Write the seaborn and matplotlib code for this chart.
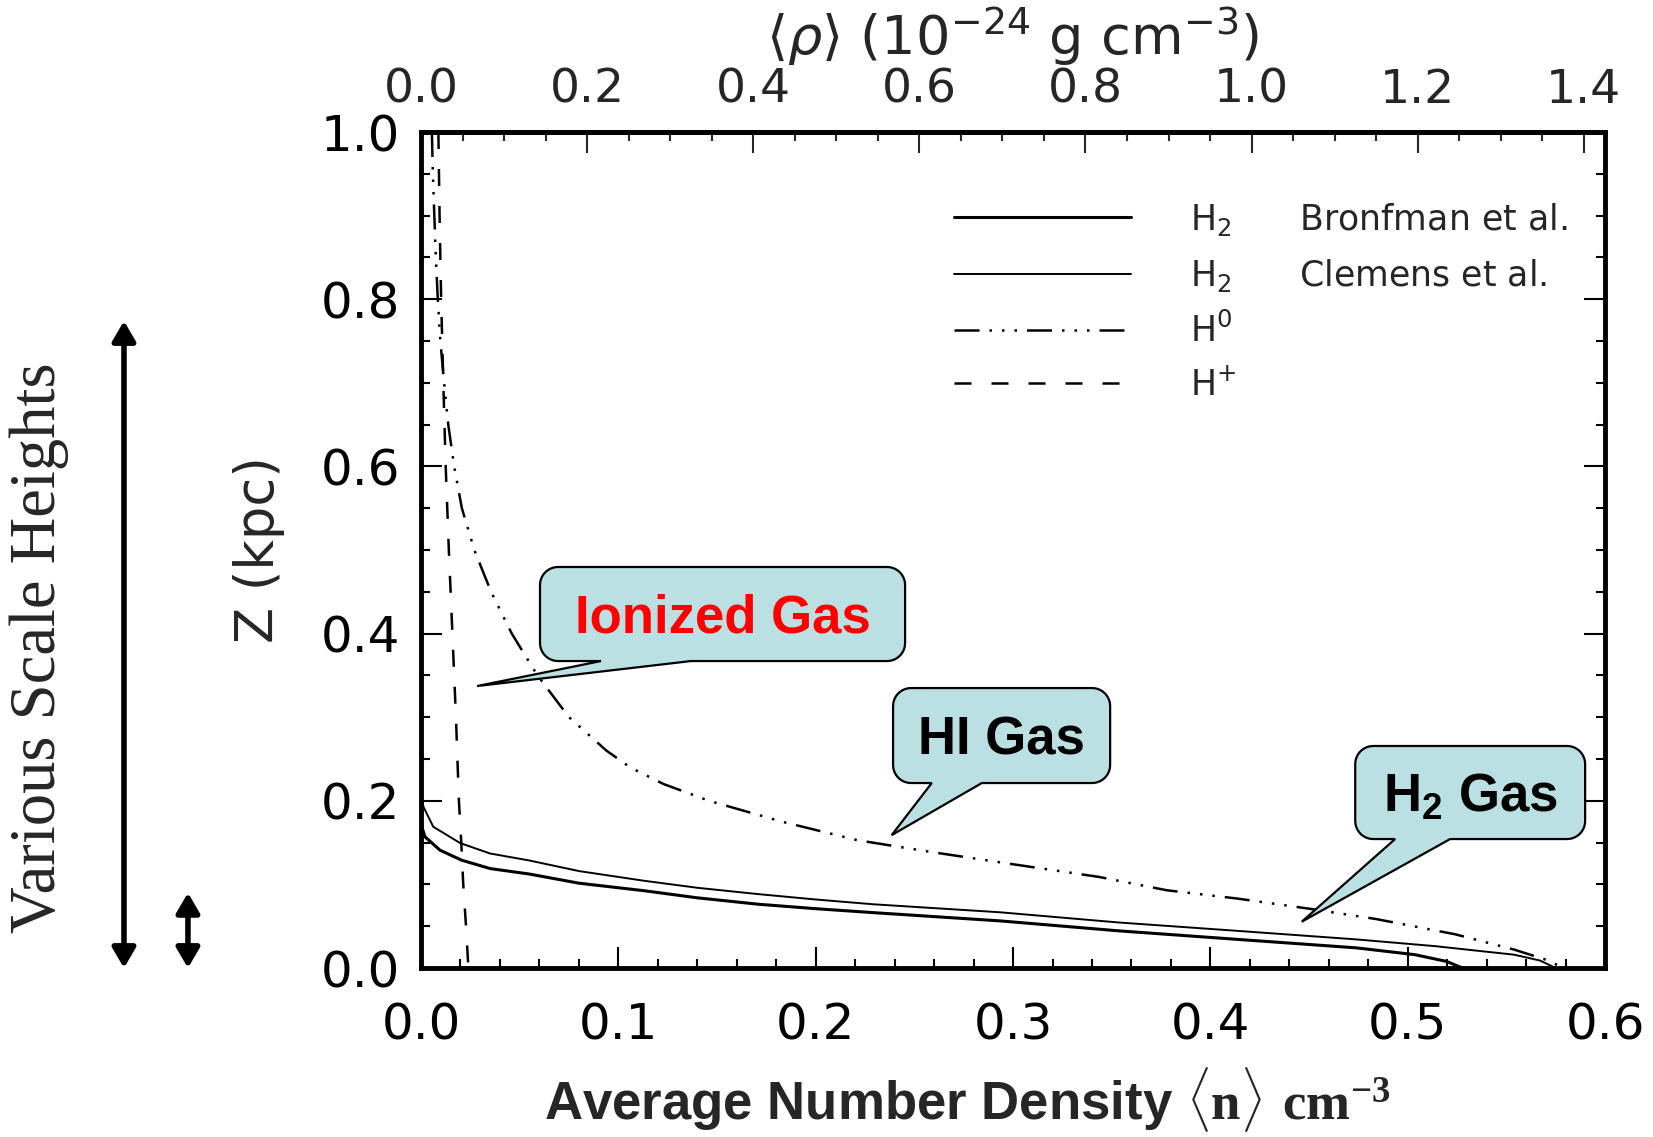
import numpy as np
import pandas as pd
import matplotlib
import matplotlib.pyplot as plt
import seaborn as sns
from matplotlib.patches import Polygon
from matplotlib.transforms import IdentityTransform
from matplotlib.ticker import MultipleLocator, FixedLocator, FormatStrFormatter

# vertical density profiles: n in cm^-3, z in kpc
h2b_n = [0.0, 0.002, 0.0096, 0.0206, 0.035, 0.055, 0.08, 0.113, 0.14, 0.171, 0.2, 0.229,
         0.2934, 0.3535, 0.4136, 0.4737, 0.5036, 0.5197, 0.5278]
h2b_z = [0.172, 0.157, 0.141, 0.129, 0.119, 0.1124, 0.1015, 0.0925, 0.084, 0.0763, 0.071, 0.0663,
         0.0564, 0.0445, 0.0343, 0.0242, 0.016, 0.0079, 0.0]

h2c_n = [0.0, 0.0012, 0.0062, 0.0198, 0.035, 0.055, 0.08, 0.113, 0.14, 0.171, 0.2, 0.229,
         0.2934, 0.3535, 0.4136, 0.4737, 0.5138, 0.5538, 0.567, 0.575]
h2c_z = [0.21, 0.193, 0.169, 0.1495, 0.137, 0.1286, 0.116, 0.1044, 0.096, 0.0884, 0.082, 0.0763,
         0.0667, 0.0545, 0.0445, 0.0343, 0.0262, 0.016, 0.009, 0.0]

h0_n = [0.0055, 0.006, 0.0075, 0.0085, 0.0098, 0.0117, 0.0138, 0.0168, 0.0207, 0.027, 0.0355,
        0.046, 0.059, 0.075, 0.094, 0.106, 0.123, 0.146, 0.183, 0.221, 0.258, 0.299, 0.3435,
        0.378, 0.414, 0.45, 0.484, 0.524, 0.554, 0.570, 0.579]
h0_z = [1.0, 0.95, 0.85, 0.8, 0.75, 0.7, 0.65, 0.6, 0.55, 0.5, 0.45,
        0.4, 0.35, 0.3, 0.26, 0.24, 0.22, 0.2, 0.175, 0.153, 0.139, 0.1245, 0.109,
        0.093, 0.083, 0.071, 0.0586, 0.0404, 0.022, 0.01, 0.0]

hp_n = [0.0088, 0.0094, 0.0102, 0.0113, 0.0125, 0.0141, 0.0159, 0.0177, 0.0192, 0.0204,
        0.0214, 0.0228, 0.0240]
hp_z = [1.0, 0.9, 0.8, 0.7, 0.6, 0.5, 0.4, 0.3, 0.2, 0.15, 0.1, 0.05, 0.0]

legend_labels = ["H$_2$      Bronfman et al.", "H$_2$      Clemens et al.",
                 "H$^0$", r"H$^\mathrm{+}$"]

# density axis on top
rho_ticks = [0.0, 0.2, 0.4, 0.6, 0.8, 1.0, 1.2, 1.4]
rho_minor = [0.05 * i for i in range(29)]
rho_per_n = 2.376  # 10^-24 g per H atom

# callouts: box (x0, y0, x1, y1), wedge base x pair, tip (x, y)
ion_box, ion_base, ion_tip = (0.0603, 0.3672, 0.2453, 0.4797), (0.0912, 0.1368), (0.0284, 0.3373)
hi_box, hi_base, hi_tip = (0.2392, 0.2213, 0.3492, 0.3349), (0.2588, 0.2842), (0.2385, 0.159)
h2_box, h2_base, h2_tip = (0.4734, 0.1543, 0.5899, 0.2656), (0.4936, 0.5215), (0.4463, 0.0554)

sns.set_theme(style="ticks")
plt.rcParams['font.family'] = ['DejaVu Sans']
plt.rcParams['mathtext.fontset'] = 'custom'
plt.rcParams['mathtext.rm'] = 'DejaVu Sans'
plt.rcParams['mathtext.it'] = 'DejaVu Sans:italic'
plt.rcParams['mathtext.bf'] = 'Liberation Serif:bold'
plt.rcParams['mathtext.sf'] = 'Liberation Sans:bold'

fig = plt.figure(figsize=(16.53, 11.37), dpi=100)
ax = fig.add_axes([0.2547, 0.1486, 0.7163, 0.7353])

sns.lineplot(x=h2b_n, y=h2b_z, ax=ax, sort=False, estimator=None, color='black', lw=2.2)
sns.lineplot(x=h2c_n, y=h2c_z, ax=ax, sort=False, estimator=None, color='black', lw=1.4)
sns.lineplot(x=h0_n, y=h0_z, ax=ax, sort=False, estimator=None, color='black', lw=1.8,
             linestyle=(0, (10, 4, 1, 4, 1, 4, 1, 4)))
sns.lineplot(x=hp_n, y=hp_z, ax=ax, sort=False, estimator=None, color='black', lw=1.8,
             linestyle=(0, (6.8, 8)))

ax.set_xlim(0, 0.6)
ax.set_ylim(0, 1.0)
ax.xaxis.set_major_locator(MultipleLocator(0.1))
ax.xaxis.set_minor_locator(MultipleLocator(0.02))
ax.yaxis.set_major_locator(MultipleLocator(0.2))
ax.yaxis.set_minor_locator(MultipleLocator(0.05))
ax.xaxis.set_major_formatter(FormatStrFormatter('%.1f'))
ax.yaxis.set_major_formatter(FormatStrFormatter('%.1f'))
ax.tick_params(which='both', direction='in', width=1.5, color='black', labelsize=36,
               labelcolor='black', top=False, right=True)
ax.tick_params(which='major', length=15)
ax.tick_params(which='minor', length=6.5)
ax.tick_params(axis='x', pad=24)
ax.tick_params(axis='y', pad=15)
for s in ax.spines.values():
    s.set_linewidth(3.5)
    s.set_color('black')
    s.set_visible(True)

sec = ax.secondary_xaxis('top', functions=(lambda n: n * rho_per_n, lambda r: r / rho_per_n))
sec.xaxis.set_major_locator(FixedLocator(rho_ticks))
sec.xaxis.set_minor_locator(FixedLocator(rho_minor))
sec.xaxis.set_major_formatter(FormatStrFormatter('%.1f'))
sec.tick_params(which='both', direction='in', width=1.5, labelsize=34, pad=14)
sec.tick_params(which='major', length=15)
sec.tick_params(which='minor', length=6.5)
sec.spines['top'].set_linewidth(3.5)
sec.set_xlabel(r"$\langle\rho\rangle$ (10$^{-24}$ g cm$^{-3}$)", fontsize=39, labelpad=9)

ax.set_ylabel("Z (kpc)", fontsize=38)
ax.yaxis.set_label_coords(-0.115, 0.5)

handles = ax.get_lines()[:4]
ax.legend(handles, legend_labels, loc='upper left', bbox_to_anchor=(0.45, 0.918),
          frameon=False, fontsize=25, handlelength=5.1, handletextpad=1.7,
          labelspacing=0.55, borderpad=0, borderaxespad=0)


def callout(box, base, tip, text, color):
    x0, y0, x1, y1 = box
    px0, py0 = ax.transData.transform((x0, y0))
    px1, py1 = ax.transData.transform((x1, y1))
    bl = ax.transData.transform((base[0], y0))[0]
    br = ax.transData.transform((base[1], y0))[0]
    tp = ax.transData.transform(tip)
    r = 18

    def arc(cx, cy, a0, a1):
        a = np.radians(np.linspace(a0, a1, 12))
        return list(zip(cx + r * np.cos(a), cy + r * np.sin(a)))

    pts = arc(px0 + r, py0 + r, 180, 270)
    pts += [(bl, py0), tuple(tp), (br, py0)]
    pts += arc(px1 - r, py0 + r, 270, 360)
    pts += arc(px1 - r, py1 - r, 0, 90)
    pts += arc(px0 + r, py1 - r, 90, 180)
    ax.add_patch(Polygon(pts, closed=True, transform=IdentityTransform(),
                         fc='#BBE0E3', ec='black', lw=1.6, zorder=5))
    ax.annotate(text, xy=((x0 + x1) / 2, (y0 + y1) / 2), xytext=(0, -13.5),
                textcoords='offset points', ha='center', va='baseline', fontsize=38,
                fontweight='bold', family='Liberation Sans', color=color, zorder=6)


callout(ion_box, ion_base, ion_tip, "Ionized Gas", '#FF0000')
callout(hi_box, hi_base, hi_tip, "HI Gas", 'black')
callout(h2_box, h2_base, h2_tip, r"$\mathsf{H_2}$ Gas", 'black')

# scale height arrows to the left of the frame
for xf, ztop in [(0.075, 0.774), (0.1137, 0.09)]:
    ax.annotate('', xy=(xf, ztop), xytext=(xf, 0.0),
                xycoords=('figure fraction', 'data'), textcoords=('figure fraction', 'data'),
                arrowprops=dict(arrowstyle='<|-|>,head_length=0.6,head_width=0.35',
                                mutation_scale=20, lw=4, color='black', shrinkA=0, shrinkB=0),
                annotation_clip=False)

fig.text(0.024, 0.43, "Various Scale Heights", rotation=90, ha='center', va='center',
         fontsize=46.5, family='Liberation Serif')
fig.text(0.585, 0.016, r"Average Number Density $\mathbf{\langle n\rangle\ cm^{-3}}$",
         ha='center', va='baseline', fontsize=38, fontweight='bold', family='Liberation Sans')

fig.savefig("out.png", dpi=100)
